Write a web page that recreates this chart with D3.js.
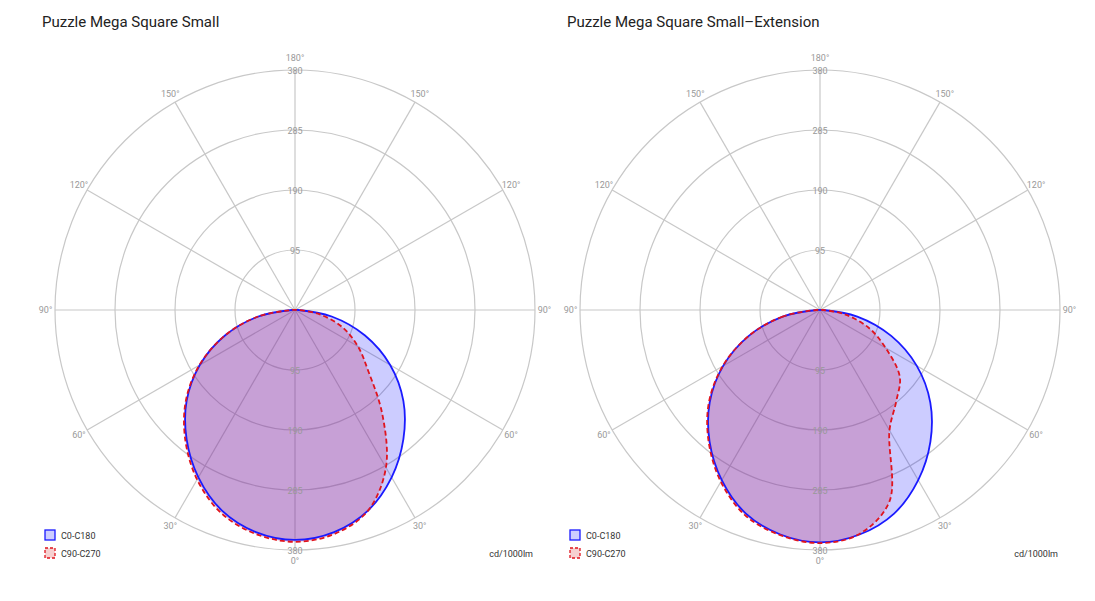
<!DOCTYPE html>
<html><head><meta charset="utf-8">
<script src="https://cdn.jsdelivr.net/npm/d3@7"></script>
<style>body{margin:0;background:#fff;font-family:Roboto,"Noto Sans",sans-serif}</style>
</head><body><svg id="c" width="1095" height="601"></svg>
<script>
const angles = [0,10,20,30,40,50,60,70,80,90];
const ringTicks = [95,190,285,380];
const angleLabels = [0,30,60,90,120,150,180];
const titles = ["Puzzle Mega Square Small","Puzzle Mega Square Small–Extension"];
// per chart: [right half, left half] intensities at the angles above
const blueA_right = [364,357,338,306,267,224,174,118,59,5];
const blueA_left  = [364,357,338,306,267,224,174,118,59,5];
const redA_right  = [367,360,338,288,215,152,115,80,40,5];
const redA_left   = [367,360,342,310,270,226,175,118,59,5];
const blueB_right = [368,361,343,311,272,228,177,120,60,5];
const blueB_left  = [368,361,343,311,272,228,177,120,60,5];
const redB_right  = [369,360,322,220,188,165,120,82,40,5];
const redB_left   = [370,362,346,314,274,230,178,120,60,5];

const charts = [
 {cx:295, title:titles[0], blue:[blueA_right,blueA_left], red:[redA_right,redA_left]},
 {cx:820, title:titles[1], blue:[blueB_right,blueB_left], red:[redB_right,redB_left]}
];
const svg = d3.select("#c");
const cy = 310;
const r = d3.scaleLinear().domain([0,380]).range([0,240]);
function pt(cx,deg,v){const a=deg*Math.PI/180;return [cx+Math.sin(a)*r(v), cy+Math.cos(a)*r(v)];}
function pathPts(cx,s){
  const pts=[];
  for(let i=angles.length-1;i>=1;i--) pts.push(pt(cx,-angles[i],s[1][i]));
  angles.forEach((a,i)=>pts.push(pt(cx,a,s[0][i])));
  pts.push([cx,cy]);
  return pts;
}
const line = d3.line().curve(d3.curveCatmullRomClosed);
charts.forEach(c=>{
  const g = svg.append("g");
  g.append("text").attr("x",c.cx-253).attr("y",27).attr("font-size",15).attr("fill","#222").text(c.title);
  ringTicks.forEach(t=>g.append("circle").attr("cx",c.cx).attr("cy",cy).attr("r",r(t)).attr("fill","none").attr("stroke","#c8c8c8").attr("stroke-width",1.2));
  for(let a=0;a<360;a+=30){const p=pt(c.cx,a,380);g.append("line").attr("x1",c.cx).attr("y1",cy).attr("x2",p[0]).attr("y2",p[1]).attr("stroke","#c8c8c8").attr("stroke-width",1.2);}
  g.append("path").attr("d",line(pathPts(c.cx,c.blue))).attr("fill","rgba(0,0,255,0.2)").attr("stroke","none");
  g.append("path").attr("d",line(pathPts(c.cx,c.red))).attr("fill","rgba(190,60,120,0.3)").attr("stroke","none");
  g.append("path").attr("d",line(pathPts(c.cx,c.blue))).attr("fill","none").attr("stroke","#1a1aff").attr("stroke-width",1.8);
  g.append("path").attr("d",line(pathPts(c.cx,c.red))).attr("fill","none").attr("stroke","#e0141e").attr("stroke-width",1.8).attr("stroke-dasharray","5,3");
  ringTicks.forEach(t=>{
    [-1,1].forEach(s=>g.append("text").attr("x",c.cx).attr("y",cy+s*r(t)+4).attr("text-anchor","middle").attr("font-size",9).attr("fill","#999").text(t));
  });
  angleLabels.forEach(a=>{
    [1,-1].forEach(s=>{
      if((a==0||a==180)&&s<0) return;
      const p=pt(c.cx,s*a,380+ (a==0||a==180?0:15));
      let y=p[1]+3; if(a==0) y=p[1]+14; if(a==180) y=p[1]-9;
      g.append("text").attr("x",p[0]).attr("y",y).attr("text-anchor","middle").attr("font-size",9).attr("fill","#999").text(a+"°");
    });
  });
  const lx=c.cx-250;
  g.append("rect").attr("x",lx).attr("y",530).attr("width",10).attr("height",10).attr("fill","rgba(0,0,255,0.2)").attr("stroke","#1a1aff").attr("stroke-width",1.3);
  g.append("text").attr("x",lx+16).attr("y",539).attr("font-size",9).attr("fill","#333").text("C0-C180");
  g.append("rect").attr("x",lx).attr("y",548).attr("width",10).attr("height",10).attr("fill","rgba(230,120,120,0.35)").attr("stroke","#e0141e").attr("stroke-width",1.3).attr("stroke-dasharray","3,2");
  g.append("text").attr("x",lx+16).attr("y",557).attr("font-size",9).attr("fill","#333").text("C90-C270");
  g.append("text").attr("x",c.cx+238).attr("y",557).attr("text-anchor","end").attr("font-size",9).attr("fill","#333").text("cd/1000lm");
});
</script></body></html>
